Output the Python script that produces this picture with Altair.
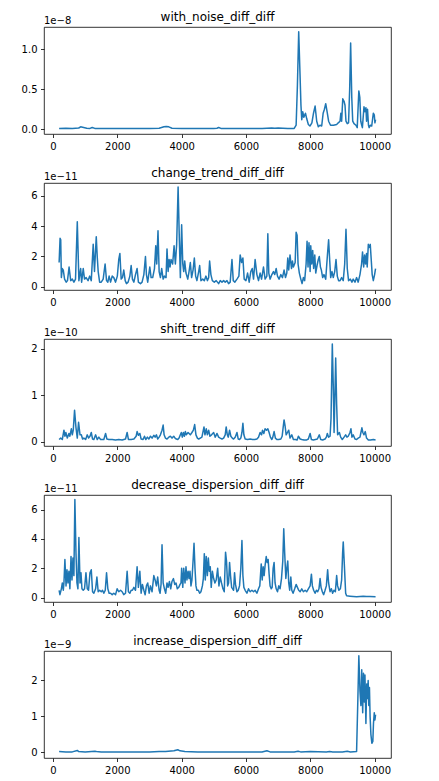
import altair as alt
import pandas as pd

# ---------------- data (values in units of the offset shown above each panel) -------------
titles = ["with_noise_diff_diff", "change_trend_diff_diff", "shift_trend_diff_diff",
          "decrease_dispersion_diff_diff", "increase_dispersion_diff_diff"]
exponents = ["1e\u22128", "1e\u221211", "1e\u221210", "1e\u221211", "1e\u22129"]
x_ticks = [0, 2000, 4000, 6000, 8000, 10000]

x1 = [190, 400, 600, 800, 860, 920, 1050, 1150, 1220, 1300,
      1600, 2000, 2500, 3000, 3300, 3450, 3520, 3600, 3700, 4000,
      4500, 5000, 5100, 5150, 5220, 5600, 6000, 6500, 6800, 6900,
      7000, 7300, 7500, 7560, 7600, 7640, 7680, 7710, 7735, 7765,
      7800, 7850, 7890, 7940, 7990, 8050, 8100, 8150, 8200, 8250,
      8300, 8355, 8400, 8440, 8480, 8530, 8570, 8630, 8720, 8820,
      8870, 8925, 8950, 8975, 9010, 9050, 9080, 9110, 9150, 9190,
      9225, 9255, 9290, 9320, 9360, 9420, 9460, 9490, 9510, 9540,
      9570, 9600, 9620, 9670, 9700, 9730, 9750, 9780, 9810, 9830,
      9870, 9910, 9960, 9990, 10010, 10030]
y1 = [0.01, 0.012, 0.01, 0.015, 0.03, 0.025, 0.012, 0.01, 0.022, 0.01,
      0.01, 0.01, 0.01, 0.01, 0.012, 0.03, 0.035, 0.03, 0.012, 0.01,
      0.01, 0.01, 0.012, 0.022, 0.01, 0.01, 0.01, 0.01, 0.015, 0.012,
      0.015, 0.01, 0.01, 0.05, 0.55, 1.22, 0.7, 0.3, 0.12, 0.22,
      0.15, 0.2, 0.13, 0.06, 0.04, 0.08, 0.2, 0.29, 0.1, 0.03,
      0.05, 0.04, 0.2, 0.25, 0.32, 0.2, 0.1, 0.05, 0.05, 0.06,
      0.08, 0.1, 0.2, 0.1, 0.38, 0.35, 0.3, 0.1, 0.07, 0.08,
      0.5, 1.08, 0.4, 0.1, 0.07, 0.05, 0.02, 0.3, 0.48, 0.4,
      0.1, 0.05, 0.02, 0.28, 0.22, 0.27, 0.1, 0.25, 0.05, 0.02,
      0.05, 0.04, 0.2, 0.18, 0.08, 0.12]

x2 = [190, 220, 240, 260, 290, 320, 360, 410, 450, 500,
      550, 600, 650, 700, 755, 805, 860, 890, 940, 980,
      1030, 1090, 1140, 1190, 1250, 1290, 1345, 1375, 1405, 1450,
      1500, 1560, 1620, 1665, 1705, 1745, 1790, 1840, 1890, 1945,
      2000, 2045, 2080, 2120, 2160, 2200, 2245, 2285, 2335, 2390,
      2430, 2470, 2515, 2565, 2615, 2655, 2720, 2770, 2825, 2875,
      2905, 2945, 3010, 3050, 3100, 3155, 3195, 3225, 3265, 3300,
      3340, 3380, 3425, 3465, 3515, 3545, 3580, 3610, 3640, 3670,
      3720, 3765, 3805, 3845, 3890, 3930, 3960, 4000, 4035, 4065,
      4095, 4135, 4190, 4230, 4270, 4310, 4355, 4395, 4435, 4475,
      4530, 4560, 4600, 4655, 4705, 4755, 4800, 4840, 4870, 4910,
      4955, 5015, 5075, 5150, 5200, 5255, 5305, 5355, 5410, 5460,
      5510, 5565, 5605, 5655, 5720, 5780, 5820, 5865, 5905, 5945,
      6000, 6050, 6100, 6150, 6195, 6235, 6285, 6340, 6390, 6440,
      6485, 6545, 6595, 6650, 6680, 6710, 6750, 6805, 6855, 6895,
      6940, 6980, 7030, 7085, 7135, 7185, 7230, 7270, 7300, 7330,
      7370, 7415, 7445, 7475, 7530, 7560, 7590, 7620, 7660, 7705,
      7745, 7785, 7825, 7870, 7900, 7930, 7960, 7995, 8015, 8045,
      8075, 8105, 8140, 8170, 8210, 8250, 8280, 8315, 8345, 8385,
      8425, 8480, 8530, 8570, 8605, 8635, 8675, 8715, 8760, 8800,
      8840, 8880, 8925, 8975, 9025, 9070, 9110, 9150, 9190, 9245,
      9295, 9335, 9390, 9440, 9490, 9545, 9595, 9625, 9660, 9690,
      9720, 9750, 9770, 9805, 9835, 9865, 9895, 9925, 9960, 10000,
      10030]
y2 = [1.6, 3.2, 3.1, 0.6, 1.2, 1.1, 0.5, 0.3, 0.4, 1.3,
      0.4, 0.5, 0.3, 0.5, 4.3, 0.4, 1.2, 0.3, 1.2, 0.5,
      0.6, 0.4, 0.7, 0.4, 2.8, 1.0, 3.3, 2.0, 1.0, 0.3,
      0.3, 0.5, 1.5, 0.4, 0.3, 0.7, 0.3, 0.7, 0.6, 0.3,
      0.7, 1.8, 2.2, 0.5, 0.6, 1.1, 0.4, 0.2, 0.3, 0.7,
      1.4, 0.5, 0.3, 0.8, 1.2, 0.3, 0.2, 0.3, 0.8, 2.0,
      0.8, 0.3, 1.3, 0.6, 0.6, 1.2, 2.7, 1.5, 3.7, 1.0,
      0.6, 1.2, 0.5, 0.7, 0.6, 2.5, 1.0, 1.8, 1.3, 1.8,
      1.5, 2.7, 1.5, 2.8, 6.6, 3.0, 0.6, 4.1, 1.5, 1.0,
      1.7, 0.9, 0.5, 1.0, 1.6, 0.6, 1.1, 1.9, 0.7, 0.4,
      1.0, 1.4, 0.4, 0.5, 0.4, 0.7, 0.4, 0.6, 1.7, 0.8,
      0.4, 0.3, 0.4, 0.2, 0.4, 0.3, 0.4, 0.3, 0.4, 0.2,
      0.3, 1.8, 0.4, 0.3, 0.5, 0.7, 2.1, 1.6, 1.9, 0.5,
      0.4, 0.9, 0.3, 1.0, 1.2, 0.5, 1.8, 0.8, 0.4, 0.9,
      0.5, 1.3, 0.5, 0.7, 3.5, 0.9, 0.5, 0.8, 1.0, 0.8,
      1.2, 0.7, 0.5, 0.8, 0.6, 1.1, 0.6, 0.9, 1.9, 1.1,
      2.1, 1.2, 1.7, 1.3, 1.6, 3.6, 3.4, 1.5, 0.9, 0.5,
      0.2, 0.6, 0.4, 1.5, 3.0, 1.3, 2.9, 1.0, 2.7, 1.5,
      2.4, 1.2, 2.1, 0.9, 1.4, 1.8, 2.0, 1.3, 1.1, 0.6,
      0.8, 0.5, 2.0, 3.1, 1.7, 0.6, 1.0, 0.6, 1.0, 1.8,
      0.7, 0.4, 0.4, 0.6, 0.4, 1.5, 3.8, 1.2, 0.4, 0.5,
      0.3, 0.5, 0.3, 0.6, 0.3, 0.8, 1.5, 2.3, 1.3, 2.1,
      1.5, 2.2, 1.3, 2.8, 2.6, 2.8, 1.8, 0.8, 0.4, 0.8,
      1.2]

x3 = [190, 240, 290, 340, 370, 400, 445, 495, 525, 570,
      600, 630, 670, 715, 755, 795, 840, 880, 920, 960,
      1015, 1065, 1105, 1150, 1190, 1230, 1270, 1325, 1375, 1425,
      1480, 1580, 1635, 1675, 1735, 1840, 1945, 2045, 2150, 2255,
      2305, 2345, 2430, 2515, 2585, 2615, 2655, 2700, 2740, 2800,
      2845, 2885, 2935, 2980, 3030, 3080, 3135, 3175, 3215, 3255,
      3300, 3340, 3390, 3425, 3455, 3495, 3545, 3600, 3650, 3700,
      3755, 3795, 3835, 3880, 3920, 3960, 3990, 4020, 4055, 4085,
      4115, 4145, 4200, 4270, 4320, 4365, 4405, 4445, 4490, 4530,
      4580, 4630, 4695, 4725, 4765, 4800, 4840, 4880, 4930, 4995,
      5045, 5100, 5150, 5200, 5255, 5305, 5355, 5385, 5420, 5450,
      5490, 5530, 5575, 5615, 5665, 5720, 5760, 5800, 5840, 5875,
      5905, 5935, 5975, 6050, 6130, 6205, 6275, 6340, 6390, 6440,
      6485, 6515, 6555, 6595, 6640, 6680, 6720, 6760, 6805, 6835,
      6875, 6915, 6960, 7020, 7085, 7125, 7155, 7185, 7215, 7250,
      7290, 7330, 7370, 7425, 7475, 7540, 7590, 7630, 7685, 7735,
      7805, 7890, 7940, 7995, 8035, 8095, 8160, 8220, 8280, 8325,
      8385, 8460, 8500, 8530, 8570, 8615, 8645, 8685, 8715, 8740,
      8760, 8790, 8820, 8850, 8905, 8945, 8995, 9050, 9100, 9140,
      9180, 9235, 9265, 9295, 9335, 9390, 9440, 9490, 9545, 9575,
      9605, 9635, 9670, 9710, 9750, 9805, 9875, 9960, 10030]
y3 = [0.05, 0.08, 0.05, 0.25, 0.12, 0.2, 0.08, 0.18, 0.12, 0.28,
      0.15, 0.25, 0.68, 0.3, 0.08, 0.42, 0.15, 0.15, 0.06, 0.08,
      0.05, 0.15, 0.08, 0.12, 0.2, 0.06, 0.05, 0.15, 0.05, 0.1,
      0.05, 0.05, 0.18, 0.06, 0.05, 0.05, 0.04, 0.05, 0.04, 0.06,
      0.2, 0.05, 0.05, 0.06, 0.12, 0.22, 0.14, 0.18, 0.06, 0.05,
      0.12, 0.05, 0.1, 0.06, 0.12, 0.08, 0.14, 0.1, 0.15, 0.06,
      0.1, 0.15, 0.25, 0.36, 0.15, 0.08, 0.06, 0.1, 0.12, 0.08,
      0.12, 0.08, 0.06, 0.05, 0.08, 0.15, 0.2, 0.1, 0.2, 0.12,
      0.22, 0.15, 0.2, 0.15, 0.2, 0.25, 0.37, 0.15, 0.08, 0.06,
      0.08, 0.1, 0.32, 0.15, 0.28, 0.15, 0.25, 0.12, 0.15, 0.2,
      0.1, 0.18, 0.1, 0.08, 0.06, 0.08, 0.15, 0.32, 0.15, 0.1,
      0.25, 0.12, 0.08, 0.06, 0.1, 0.2, 0.06, 0.05, 0.08, 0.2,
      0.4, 0.15, 0.06, 0.05, 0.06, 0.05, 0.05, 0.06, 0.1, 0.2,
      0.15, 0.25, 0.18, 0.28, 0.25, 0.28, 0.2, 0.1, 0.05, 0.1,
      0.22, 0.08, 0.05, 0.05, 0.06, 0.12, 0.3, 0.47, 0.35, 0.15,
      0.2, 0.25, 0.08, 0.15, 0.05, 0.05, 0.04, 0.12, 0.06, 0.05,
      0.04, 0.04, 0.06, 0.18, 0.05, 0.04, 0.05, 0.06, 0.15, 0.05,
      0.04, 0.06, 0.1, 0.18, 0.1, 0.12, 0.5, 2.1, 1.2, 0.2,
      0.8, 1.8, 0.8, 0.15, 0.2, 0.1, 0.05, 0.1, 0.15, 0.1,
      0.12, 0.2, 0.28, 0.1, 0.15, 0.06, 0.05, 0.08, 0.1, 0.2,
      0.3, 0.2, 0.15, 0.22, 0.08, 0.04, 0.04, 0.05, 0.04]

x4 = [190, 215, 260, 290, 320, 340, 370, 405, 435, 465,
      495, 525, 560, 590, 620, 650, 680, 715, 745, 775,
      805, 840, 870, 900, 940, 980, 1025, 1065, 1105, 1150,
      1190, 1230, 1270, 1325, 1365, 1405, 1450, 1500, 1540, 1580,
      1625, 1665, 1705, 1745, 1790, 1840, 1890, 1945, 1995, 2045,
      2100, 2150, 2200, 2255, 2305, 2345, 2390, 2430, 2470, 2515,
      2565, 2615, 2655, 2700, 2740, 2780, 2825, 2865, 2905, 2945,
      2990, 3030, 3080, 3135, 3175, 3215, 3255, 3300, 3330, 3360,
      3390, 3425, 3465, 3505, 3545, 3580, 3620, 3660, 3700, 3745,
      3785, 3825, 3865, 3910, 3950, 3980, 4000, 4035, 4065, 4105,
      4135, 4165, 4200, 4230, 4260, 4290, 4320, 4355, 4385, 4415,
      4445, 4475, 4520, 4560, 4600, 4645, 4675, 4705, 4735, 4765,
      4800, 4830, 4860, 4890, 4920, 4955, 4995, 5035, 5075, 5120,
      5160, 5200, 5240, 5285, 5325, 5365, 5395, 5430, 5460, 5490,
      5520, 5555, 5585, 5615, 5645, 5675, 5720, 5760, 5800, 5840,
      5875, 5905, 5935, 5975, 6030, 6080, 6130, 6185, 6235, 6285,
      6340, 6390, 6430, 6475, 6505, 6535, 6565, 6595, 6630, 6660,
      6690, 6720, 6750, 6785, 6815, 6845, 6875, 6905, 6940, 6980,
      7020, 7060, 7105, 7145, 7175, 7205, 7240, 7270, 7300, 7330,
      7360, 7395, 7425, 7465, 7515, 7560, 7600, 7640, 7685, 7735,
      7785, 7840, 7890, 7940, 7995, 8035, 8065, 8105, 8150, 8190,
      8230, 8270, 8305, 8335, 8375, 8415, 8460, 8500, 8540, 8570,
      8615, 8655, 8695, 8735, 8780, 8820, 8850, 8890, 8935, 8975,
      9005, 9025, 9060, 9100, 9130, 9235, 9335, 9440, 9545, 9645,
      9750, 9855, 10030]
y4 = [0.5, 0.2, 0.6, 1.0, 0.5, 1.0, 2.6, 0.8, 1.9, 1.0,
      1.8, 0.6, 2.8, 1.2, 2.7, 1.5, 6.7, 3.0, 1.0, 0.6,
      4.1, 1.0, 1.7, 0.6, 0.5, 0.6, 1.7, 0.6, 0.5, 1.7,
      1.9, 0.4, 0.3, 0.6, 1.4, 0.4, 0.5, 0.4, 0.5, 0.3,
      0.5, 1.7, 0.6, 0.3, 0.3, 0.2, 0.3, 0.2, 0.6, 0.4,
      0.5, 0.4, 0.2, 0.3, 1.8, 0.4, 0.3, 0.5, 0.5, 0.7,
      0.5, 2.1, 0.7, 1.8, 0.3, 0.9, 0.5, 0.2, 0.8, 1.0,
      0.3, 0.8, 0.4, 1.5, 1.2, 0.8, 1.4, 0.5, 0.3, 0.9,
      3.6, 1.0, 0.6, 0.3, 1.0, 0.7, 1.1, 0.6, 1.1, 1.3,
      0.9, 1.0, 0.6, 0.7, 0.9, 1.0, 2.0, 0.7, 2.0, 1.0,
      2.1, 1.2, 1.8, 1.3, 1.8, 0.8, 1.2, 2.5, 3.7, 2.0,
      0.8, 0.5, 0.5, 0.3, 0.4, 0.8, 1.3, 3.0, 1.2, 2.8,
      1.5, 2.7, 1.8, 2.1, 0.7, 1.8, 1.3, 1.0, 1.2, 2.0,
      0.8, 1.4, 1.0, 0.6, 0.4, 3.1, 2.5, 0.8, 1.0, 2.4,
      1.5, 0.7, 0.6, 0.5, 1.7, 0.9, 0.4, 0.5, 0.8, 2.0,
      3.9, 1.5, 0.7, 0.5, 0.3, 0.6, 0.4, 0.5, 0.4, 0.5,
      0.3, 0.6, 0.8, 2.3, 1.2, 2.1, 1.5, 2.2, 2.8, 2.4,
      2.6, 1.6, 0.8, 0.6, 0.7, 2.0, 2.4, 1.0, 0.6, 0.4,
      0.8, 0.6, 1.3, 2.5, 4.7, 3.0, 1.3, 2.0, 2.5, 1.0,
      0.5, 1.4, 0.5, 0.3, 0.6, 0.9, 0.7, 0.5, 0.4, 0.6,
      0.4, 0.5, 0.4, 0.6, 0.8, 1.6, 0.8, 0.5, 0.3, 0.5,
      0.4, 0.6, 1.3, 0.7, 0.4, 0.2, 0.5, 0.8, 1.9, 1.0,
      0.4, 0.6, 0.3, 0.5, 0.4, 1.5, 0.8, 0.5, 0.6, 1.2,
      3.0, 3.8, 2.2, 0.3, 0.12, 0.1, 0.08, 0.06, 0.08, 0.1,
      0.08, 0.07, 0.06]

x5 = [190, 400, 600, 755, 800, 1000, 1300, 1350, 1500, 2000,
      2500, 3000, 3300, 3500, 3760, 3880, 3950, 4100, 4500, 5000,
      5500, 6000, 6500, 6650, 6750, 7000, 7500, 7620, 7700, 8000,
      8500, 8600, 8700, 9000, 9150, 9250, 9440, 9480, 9510, 9545,
      9575, 9600, 9630, 9655, 9680, 9700, 9730, 9755, 9780, 9800,
      9820, 9840, 9860, 9885, 9915, 9945, 9965, 9990, 10010, 10030]
y5 = [0.02, 0.01, 0.01, 0.05, 0.02, 0.01, 0.03, 0.02, 0.01, 0.01,
      0.01, 0.01, 0.02, 0.02, 0.04, 0.07, 0.04, 0.02, 0.01, 0.01,
      0.01, 0.01, 0.01, 0.04, 0.01, 0.01, 0.01, 0.03, 0.01, 0.02,
      0.01, 0.02, 0.01, 0.01, 0.03, 0.01, 0.02, 1.5, 2.69, 1.7,
      1.3, 2.3, 1.1, 2.2, 1.4, 2.15, 0.8, 1.9, 1.5, 2.0,
      1.3, 1.8, 1.0, 0.5, 0.25, 0.3, 0.8, 1.1, 0.9, 1.05]

y_domains = [[-0.06, 1.28], [-0.22, 6.86], [-0.09, 2.21], [-0.3, 7.0], [-0.16, 2.82]]
y_ticks = [[0, 0.5, 1.0], [0, 2, 4, 6], [0, 1, 2], [0, 2, 4, 6], [0, 1, 2]]
y_formats = [".1f", "d", "d", "d", "d"]
series = [(x1, y1), (x2, y2), (x3, y3), (x4, y4), (x5, y5)]

# ---------------- chart -------------
W, H = 347, 107
FONT = "DejaVu Sans"


def panel(i):
    xs, ys = series[i]
    assert len(xs) == len(ys), (i, len(xs), len(ys))
    df = pd.DataFrame({"x": xs, "y": ys})
    line = alt.Chart(df).mark_line(color="#1f77b4", strokeWidth=1.5,
                                   strokeJoin="round", clip=True).encode(
        x=alt.X("x:Q", scale=alt.Scale(domain=[-280, 10510], nice=False, zero=False),
                axis=alt.Axis(values=x_ticks, format="d", title=None)),
        y=alt.Y("y:Q", scale=alt.Scale(domain=y_domains[i], nice=False, zero=False),
                axis=alt.Axis(values=y_ticks[i], format=y_formats[i], title=None)),
    )
    ttl = alt.Chart(pd.DataFrame({"t": [titles[i]]})).mark_text(
        font=FONT, fontSize=12, align="center", baseline="alphabetic", color="black"
    ).encode(text="t:N", x=alt.value(W / 2), y=alt.value(-6))
    exp = alt.Chart(pd.DataFrame({"t": [exponents[i]]})).mark_text(
        font=FONT, fontSize=10, align="left", baseline="alphabetic", color="black"
    ).encode(text="t:N", x=alt.value(0), y=alt.value(-3.5))
    return alt.layer(line, ttl, exp).properties(width=W, height=H)


chart = alt.vconcat(*[panel(i) for i in range(5)], spacing=49, bounds="flush").properties(
    padding={"left": 12, "top": 2, "right": 5, "bottom": 5},
    background="white",
).configure_view(
    stroke="black", strokeWidth=0.8
).configure_axis(
    labelFont=FONT, labelFontSize=10, labelColor="black",
    tickColor="black", tickSize=3.5, tickWidth=0.8, labelPadding=3.5,
    domain=False, grid=False, labelFlush=False,
)

chart.save("out.html", embed_options={"renderer": "svg", "actions": False})
